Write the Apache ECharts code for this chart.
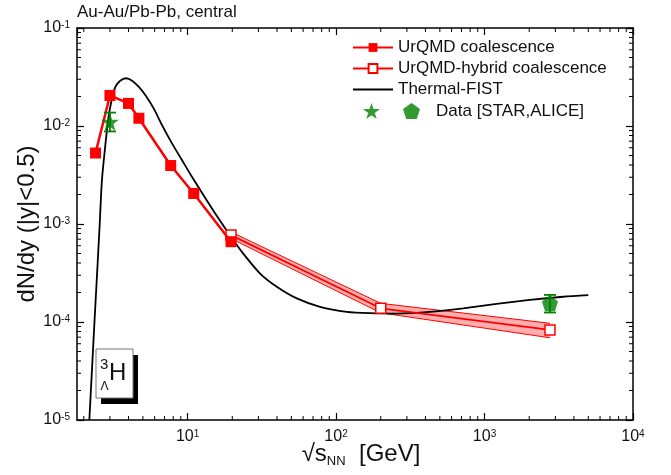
<!DOCTYPE html>
<html><head><meta charset="utf-8">
<script src="https://cdn.jsdelivr.net/npm/echarts@6/dist/echarts.min.js"></script>
<style>html,body{margin:0;padding:0;background:#fff}#c{width:671px;height:475px}</style>
</head><body><div id="c"></div>
<script>
// ---- data ----
const urqmdX = [2.4, 3.0, 4.0, 4.7, 7.7, 11, 19.6];
const urqmdY = [5.3e-3, 2.05e-2, 1.7e-2, 1.2e-2, 3.95e-3, 2.05e-3, 6.6e-4];

const hybridX  = [19.6, 200, 2760];
const hybridY  = [7.7e-4, 1.38e-4, 8.3e-5];
const hybridUp = [8.3e-4, 1.55e-4, 9.7e-5];
const hybridLo = [7.1e-4, 1.24e-4, 6.9e-5];

const fistX = [2.18, 2.36, 2.46, 2.56, 2.65, 2.80, 2.94, 3.10, 3.27, 3.52, 3.85, 4.23, 4.68, 5.19, 5.90, 6.73, 7.85, 9.16, 10.7, 12.8, 15.8, 19.4, 23.8, 30.8, 39.9, 54.4, 78, 118, 169, 256, 429, 718, 1205, 2018, 3381, 5000];
const fistY = [1.0e-5, 1.0e-4, 3.2e-4, 1.0e-3, 2.8e-3, 6.6e-3, 1.25e-2, 1.92e-2, 2.52e-2, 2.90e-2, 3.07e-2, 2.90e-2, 2.52e-2, 2.07e-2, 1.52e-2, 1.02e-2, 6.65e-3, 4.5e-3, 3.03e-3, 1.97e-3, 1.2e-3, 7.6e-4, 4.95e-4, 3.12e-4, 2.29e-4, 1.74e-4, 1.43e-4, 1.27e-4, 1.23e-4, 1.22e-4, 1.27e-4, 1.38e-4, 1.53e-4, 1.68e-4, 1.81e-4, 1.88e-4];

const starX = [3.0],  starY = [1.1e-2],  starLo = [8.8e-3], starHi = [1.37e-2];
const aliceX = [2760], aliceY = [1.55e-4], aliceLo = [1.25e-4], aliceHi = [1.89e-4];

const xMin = 1.8, xMax = 1e4, yMin = 1e-5, yMax = 1e-1;
const minorMantissa = [2, 3, 4, 5, 6, 7, 8, 9];
const xDecades = [1, 10, 100, 1000];
const yDecades = [1e-5, 1e-4, 1e-3, 1e-2];

// ---- build ----
const pairs = (xs, ys) => xs.map((x, i) => [x, ys[i]]);
const xMinor = [];
xDecades.forEach(d => minorMantissa.forEach(m => { const v = m * d; if (v > xMin && v < xMax) xMinor.push([v, 1e-3]); }));
const yMinor = [];
yDecades.forEach(d => minorMantissa.forEach(m => { const v = m * d; if (v > yMin && v < yMax) yMinor.push([10, v]); }));

const FONT = '"Liberation Sans", Arial, sans-serif';
const TXT = '#111';
const labelFmt = v => {
  const e = Math.log10(v);
  if (Math.abs(e - Math.round(e)) > 1e-6) return '';
  return '{b|10}{s|' + Math.round(e) + '}';
};
const labelRich = {
  b: { fontSize: 16, fontFamily: FONT, color: TXT },
  s: { fontSize: 10, fontFamily: FONT, color: TXT, verticalAlign: 'top', padding: [0, 0, 6, 0] }
};
const PENT = 'path://M0,-1 L0.951,-0.309 L0.588,0.809 L-0.588,0.809 L-0.951,-0.309 Z';
const STAR = 'path://M0,-1L0.2245,-0.309L0.951,-0.309L0.363,0.118L0.588,0.809L0,0.382L-0.588,0.809L-0.363,0.118L-0.951,-0.309L-0.2245,-0.309Z';

const baseAxis = (extra) => Object.assign({
  type: 'log', logBase: 10,
  axisLine: { show: true, lineStyle: { color: '#000', width: 1.5 } },
  axisTick: { show: true, inside: true, length: 7, lineStyle: { color: '#000', width: 1.2 } },
  splitLine: { show: false },
  minorTick: { show: false }
}, extra);

const chart = echarts.init(document.getElementById('c'), null, { renderer: 'canvas' });
chart.setOption({
  animation: false,
  backgroundColor: '#fff',
  textStyle: { fontFamily: FONT },
  grid: { left: 77, top: 28, right: 38, bottom: 55, containLabel: false, outerBoundsMode: 'none' },
  xAxis: [
    baseAxis({
      min: xMin, max: xMax, position: 'bottom',
      axisLabel: { formatter: labelFmt, rich: labelRich, margin: 9, showMinLabel: false },
      name: '{a|\u221As}{sub|NN}{a|  [GeV]}', nameLocation: 'middle', nameGap: 21, nameMoveOverlap: false,
      nameTextStyle: { padding: [0, 0, 0, 12], rich: {
        a: { fontSize: 24, fontFamily: FONT, color: TXT },
        sub: { fontSize: 13, fontFamily: FONT, color: TXT, verticalAlign: 'bottom', padding: [14, 0, 0, 0] }
      } }
    }),
    baseAxis({ min: xMin, max: xMax, position: 'top', axisLabel: { show: false } })
  ],
  yAxis: [
    baseAxis({
      min: yMin, max: yMax, position: 'left',
      axisLabel: { formatter: labelFmt, rich: labelRich, margin: 7 },
      name: 'dN/dy (|y|<0.5)', nameLocation: 'middle', nameGap: 38, nameMoveOverlap: false,
      nameTextStyle: { fontSize: 24, fontFamily: FONT, color: TXT }
    }),
    baseAxis({ min: yMin, max: yMax, position: 'right', axisLabel: { show: false } })
  ],
  legend: [
    {
      data: ['UrQMD coalescence', 'UrQMD-hybrid coalescence', 'Thermal-FIST'],
      orient: 'vertical', left: 352, top: 39, padding: 0,
      itemWidth: 40, itemHeight: 11, itemGap: 4, selectedMode: false,
      textStyle: { fontSize: 17, fontFamily: FONT, color: TXT }
    },
    {
      data: ['STAR', 'ALICE'],
      orient: 'horizontal', left: 363, top: 102.5, padding: 0,
      itemWidth: 17, itemHeight: 17, itemGap: 23, selectedMode: false,
      formatter: n => n === 'ALICE' ? '{t|Data [STAR,ALICE]}' : '',
      textStyle: { fontSize: 17, fontFamily: FONT, color: TXT, rich: { t: { fontSize: 17, fontFamily: FONT, color: TXT, padding: [0, 0, 0, 11] } } }
    }
  ],
  graphic: [
    { type: 'text', left: 77, top: 4, style: { text: 'Au-Au/Pb-Pb, central', font: '17px ' + FONT, fill: TXT } },
    { type: 'rect', shape: { x: 101, y: 355, width: 37, height: 49 }, style: { fill: '#000' }, z: 10 },
    { type: 'rect', shape: { x: 96, y: 349, width: 37, height: 49 }, style: { fill: '#fff', stroke: '#777', lineWidth: 1 }, z: 11 },
    { type: 'text', x: 100, y: 357, style: { text: '3', font: '15px ' + FONT, fill: TXT }, z: 12 },
    { type: 'text', x: 100.5, y: 381, style: { text: '\u039B', font: '12px ' + FONT, fill: TXT }, z: 12 },
    { type: 'text', x: 109, y: 361, style: { text: 'H', font: '24px ' + FONT, fill: TXT }, z: 12 }
  ],
  series: [
    {
      name: 'band', type: 'custom', silent: true, z: 1,
      data: pairs(hybridX, hybridY),
      renderItem: (params, api) => {
        if (params.dataIndex !== 0) return null;
        const up = hybridX.map((x, i) => api.coord([x, hybridUp[i]]));
        const lo = hybridX.map((x, i) => api.coord([x, hybridLo[i]]));
        return { type: 'group', children: [
          { type: 'polygon', shape: { points: up.concat(lo.slice().reverse()) }, style: { fill: 'rgba(255,60,60,0.42)' } },
          { type: 'polyline', shape: { points: up }, style: { stroke: '#ff0000', lineWidth: 1, fill: null } },
          { type: 'polyline', shape: { points: lo }, style: { stroke: '#ff0000', lineWidth: 1, fill: null } }
        ] };
      }
    },
    {
      name: 'Thermal-FIST', type: 'line', data: pairs(fistX, fistY), z: 3,
      symbol: 'none', smooth: 0.25,
      lineStyle: { color: '#000', width: 1.8 },
      itemStyle: { color: 'rgba(0,0,0,0)', borderWidth: 0 }
    },
    {
      name: 'UrQMD-hybrid coalescence', type: 'line', data: pairs(hybridX, hybridY), z: 4,
      symbol: 'rect', symbolSize: 10,
      lineStyle: { color: '#ff0000', width: 1.8 },
      itemStyle: { color: '#fff', borderColor: '#ff0000', borderWidth: 1.5 }
    },
    {
      name: 'UrQMD coalescence', type: 'line', data: pairs(urqmdX, urqmdY), z: 5,
      symbol: 'rect', symbolSize: 11,
      lineStyle: { color: '#ff0000', width: 2.5 },
      itemStyle: { color: '#ff0000' }
    },
    {
      name: 'STAR', type: 'scatter', data: pairs(starX, starY), z: 6,
      symbol: STAR, symbolSize: 18, itemStyle: { color: '#008000' }
    },
    {
      name: 'ALICE', type: 'scatter', data: pairs(aliceX, aliceY), z: 6,
      symbol: PENT, symbolSize: 16, itemStyle: { color: '#008000' }
    },
    {
      name: 'errors', type: 'custom', silent: true, z: 7,
      data: starX.map((x, i) => [x, starLo[i], starHi[i]]).concat(aliceX.map((x, i) => [x, aliceLo[i], aliceHi[i]])),
      renderItem: (params, api) => {
        const lo = api.coord([api.value(0), api.value(1)]);
        const hi = api.coord([api.value(0), api.value(2)]);
        const w = 6;
        const st = { stroke: '#008000', lineWidth: 1.8 };
        return { type: 'group', children: [
          { type: 'line', shape: { x1: lo[0], y1: lo[1], x2: hi[0], y2: hi[1] }, style: st },
          { type: 'line', shape: { x1: lo[0] - w, y1: lo[1], x2: lo[0] + w, y2: lo[1] }, style: st },
          { type: 'line', shape: { x1: hi[0] - w, y1: hi[1], x2: hi[0] + w, y2: hi[1] }, style: st }
        ] };
      }
    },
    {
      name: 'xminor', type: 'custom', silent: true, z: 8, data: xMinor,
      renderItem: (params, api) => {
        const cs = params.coordSys;
        const x = api.coord([api.value(0), api.value(1)])[0];
        const st = { stroke: '#000', lineWidth: 1 };
        return { type: 'group', children: [
          { type: 'line', shape: { x1: x, y1: cs.y + cs.height, x2: x, y2: cs.y + cs.height - 4 }, style: st },
          { type: 'line', shape: { x1: x, y1: cs.y, x2: x, y2: cs.y + 4 }, style: st }
        ] };
      }
    },
    {
      name: 'yminor', type: 'custom', silent: true, z: 8, data: yMinor,
      renderItem: (params, api) => {
        const cs = params.coordSys;
        const y = api.coord([api.value(0), api.value(1)])[1];
        const st = { stroke: '#000', lineWidth: 1 };
        return { type: 'group', children: [
          { type: 'line', shape: { x1: cs.x, y1: y, x2: cs.x + 4, y2: y }, style: st },
          { type: 'line', shape: { x1: cs.x + cs.width, y1: y, x2: cs.x + cs.width - 4, y2: y }, style: st }
        ] };
      }
    }
  ]
});
</script></body></html>
